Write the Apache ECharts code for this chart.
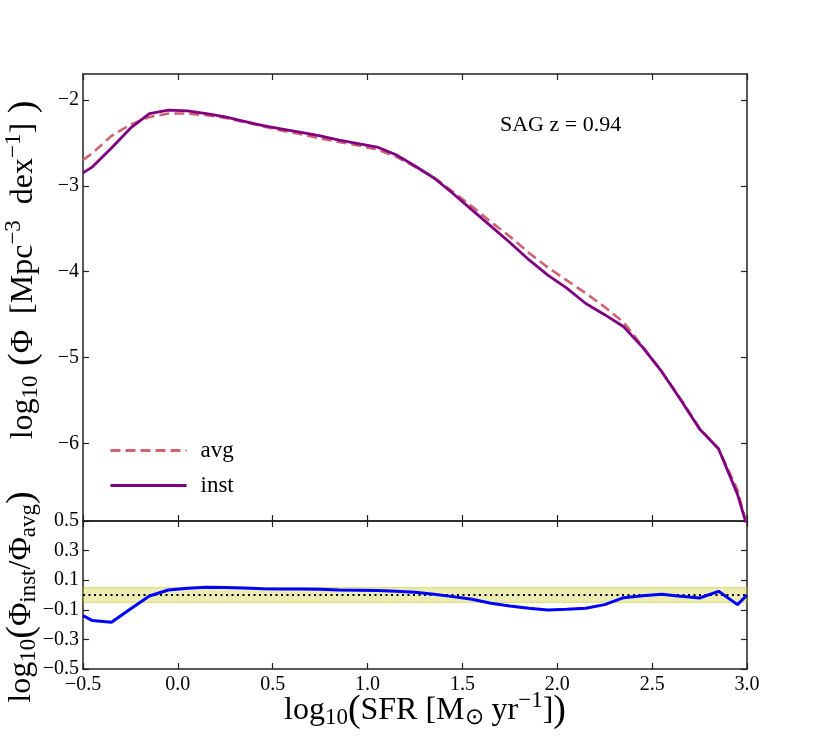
<!DOCTYPE html>
<html>
<head>
<meta charset="utf-8">
<script src="https://cdn.jsdelivr.net/npm/echarts@6/dist/echarts.min.js"></script>
<style>
    html, body { margin: 0; padding: 0; background: #fff; }
    #chart { width: 830px; height: 744px; }
</style>
</head>
<body>
<div id="chart"></div>
<script>
// log10(SFR) bin centres
var sfrBins = [-0.5, -0.45, -0.35, -0.25, -0.15, -0.05, 0.05, 0.15, 0.25, 0.35, 0.45,
    0.55, 0.65, 0.75, 0.85, 0.95, 1.05, 1.15, 1.25, 1.35, 1.45, 1.55, 1.65, 1.75,
    1.85, 1.95, 2.05, 2.15, 2.25, 2.35, 2.45, 2.55, 2.65, 2.75, 2.85, 2.95, 3.0];

// log10(Phi) for averaged SFR
var phiAvg = [-2.70, -2.62, -2.42, -2.29, -2.20, -2.16, -2.16, -2.18, -2.21, -2.26, -2.31,
    -2.36, -2.40, -2.45, -2.49, -2.53, -2.58, -2.66, -2.78, -2.90, -3.07, -3.24, -3.42, -3.59,
    -3.78, -3.95, -4.10, -4.25, -4.41, -4.59, -4.87, -5.16, -5.48, -5.82, -6.06, -6.54, -6.96];

// log10(Phi) for instantaneous SFR
var phiInst = [-2.85, -2.78, -2.56, -2.33, -2.16, -2.12, -2.13, -2.16, -2.20, -2.25, -2.30,
    -2.34, -2.38, -2.42, -2.47, -2.51, -2.55, -2.64, -2.77, -2.91, -3.09, -3.28, -3.47, -3.66,
    -3.86, -4.04, -4.19, -4.37, -4.50, -4.64, -4.88, -5.16, -5.49, -5.83, -6.06, -6.59, -6.96];

// log10(Phi_inst / Phi_avg)
var ratio = [-0.139, -0.173, -0.184, -0.095, -0.007, 0.034, 0.045, 0.052, 0.050, 0.048, 0.043,
    0.041, 0.041, 0.039, 0.034, 0.032, 0.030, 0.025, 0.018, 0.005, -0.011, -0.029, -0.056, -0.074,
    -0.090, -0.101, -0.096, -0.090, -0.065, -0.018, -0.005, 0.005, -0.009, -0.020, 0.025, -0.065, 0.0];

var ratioBand = [-0.05, 0.05];
var xTicks = [-0.5, 0.0, 0.5, 1.0, 1.5, 2.0, 2.5, 3.0];
var phiTicks = [-6, -5, -4, -3, -2];
var ratioTicks = [-0.5, -0.3, -0.1, 0.1, 0.3, 0.5];

var FONT = 'Liberation Serif';
var AXIS_COLOR = '#222';

function pairs(xs, ys) {
    return xs.map(function (x, i) {
        return [x, ys[i]];
    });
}

function minus(s) {
    return String(s).replace('-', '\u2212');
}

// 标题的上下标样式
var titleRich = {
    t: { fontFamily: FONT, fontSize: 32, color: '#000' },
    b: { fontFamily: FONT, fontSize: 38, color: '#000' },
    s: { fontFamily: FONT, fontSize: 23, color: '#000', padding: [14, 0, 0, 0] },
    p: { fontFamily: FONT, fontSize: 23, color: '#000', padding: [0, 0, 20, 0] }
};

function titleText(text, x, y, rotated) {
    return {
        type: 'text',
        x: x,
        y: y,
        rotation: rotated ? Math.PI / 2 : 0,
        silent: true,
        style: {
            text: text,
            rich: titleRich,
            align: 'center',
            verticalAlign: 'middle'
        }
    };
}

// 四边刻度朝内的坐标轴
function xAxisOf(grid, pos, labels) {
    return {
        type: 'value', gridIndex: grid, position: pos,
        min: -0.5, max: 3.0, interval: 0.5,
        axisLine: { show: true, onZero: false, lineStyle: { color: AXIS_COLOR, width: 1.5 } },
        axisTick: { show: true, inside: true, length: 6, customValues: xTicks, lineStyle: { color: AXIS_COLOR, width: 1.2 } },
        axisLabel: {
            show: labels, margin: 6, customValues: xTicks, align: 'center',
            fontFamily: FONT, fontSize: 20, color: '#000',
            formatter: function (v) { return minus(v.toFixed(1)); }
        },
        splitLine: { show: false }
    };
}

function yAxisOf(grid, pos, labels, min, max, ticks, digits) {
    return {
        type: 'value', gridIndex: grid, position: pos,
        min: min, max: max,
        axisLine: { show: true, onZero: false, lineStyle: { color: AXIS_COLOR, width: 1.5 } },
        axisTick: { show: true, inside: true, length: 6, customValues: ticks, lineStyle: { color: AXIS_COLOR, width: 1.2 } },
        axisLabel: {
            show: labels, margin: 4, customValues: ticks, align: 'right',
            fontFamily: FONT, fontSize: 20, color: '#000',
            formatter: function (v) { return minus(v.toFixed(digits)); }
        },
        splitLine: { show: false }
    };
}

var chart = echarts.init(document.getElementById('chart'));

chart.setOption({
    animation: false,
    backgroundColor: '#fff',
    grid: [
        { left: 83, right: 83, top: 74, height: 447 },
        { left: 83, right: 83, top: 521, height: 148 }
    ],
    xAxis: [
        xAxisOf(0, 'bottom', false),
        xAxisOf(0, 'top', false),
        xAxisOf(1, 'bottom', true),
        xAxisOf(1, 'top', false)
    ],
    yAxis: [
        yAxisOf(0, 'left', true, -6.9, -1.7, phiTicks, 0),
        yAxisOf(0, 'right', false, -6.9, -1.7, phiTicks, 0),
        yAxisOf(1, 'left', true, -0.5, 0.5, ratioTicks, 1),
        yAxisOf(1, 'right', false, -0.5, 0.5, ratioTicks, 1)
    ],
    legend: {
        orient: 'vertical',
        left: 104,
        top: 434,
        itemWidth: 76,
        itemHeight: 14,
        itemGap: 12,
        data: ['avg', 'inst'],
        itemStyle: { opacity: 0 },
        lineStyle: { width: 3 },
        textStyle: { fontFamily: FONT, fontSize: 23, color: '#000', padding: [0, 0, 0, 9] }
    },
    graphic: [
        {
            type: 'text',
            left: 500,
            top: 114,
            style: { text: 'SAG z = 0.94', fontFamily: FONT, fontSize: 22, fill: '#000' }
        },
        titleText('{t|log}{s|10}{b| (}{t|\u03a6  [Mpc}{p|\u22123}{t|  dex}{p|\u22121}{t|]}{b| )}', 24, 270, true),
        titleText('{t|log}{s|10}{b|(}{t|\u03a6}{s|inst}{t|/\u03a6}{s|avg}{b|)}', 22, 597, true),
        titleText('{t|log}{s|10}{b|(}{t|SFR [M}{s|\u2299}{t| yr}{p|\u22121}{t|]}{b|)}', 425, 711, false)
    ],
    series: [
        {
            name: 'avg', type: 'line', xAxisIndex: 0, yAxisIndex: 0,
            data: pairs(sfrBins, phiAvg),
            showSymbol: false, symbol: 'none', clip: true,
            lineStyle: { color: '#cf6372', width: 2.6, type: [10, 5] },
            itemStyle: { color: '#cf6372' }
        },
        {
            name: 'inst', type: 'line', xAxisIndex: 0, yAxisIndex: 0,
            data: pairs(sfrBins, phiInst),
            showSymbol: false, symbol: 'none', clip: true,
            lineStyle: { color: '#800080', width: 2.8 },
            itemStyle: { color: '#800080' }
        },
        {
            name: 'ratio', type: 'line', xAxisIndex: 2, yAxisIndex: 2,
            data: pairs(sfrBins, ratio),
            showSymbol: false, symbol: 'none', clip: true, z: 5,
            lineStyle: { color: '#0000ff', width: 3 },
            itemStyle: { color: '#0000ff' },
            markArea: {
                silent: true,
                itemStyle: { color: 'rgba(191,191,0,0.3)', borderColor: 'rgba(191,191,0,0.45)', borderWidth: 1 },
                data: [[{ yAxis: ratioBand[0] }, { yAxis: ratioBand[1] }]]
            },
            markLine: {
                silent: true, symbol: 'none', label: { show: false },
                lineStyle: { color: '#000', width: 2, type: [2, 3.5] },
                data: [{ yAxis: 0 }]
            }
        }
    ]
});
</script>
</body>
</html>
